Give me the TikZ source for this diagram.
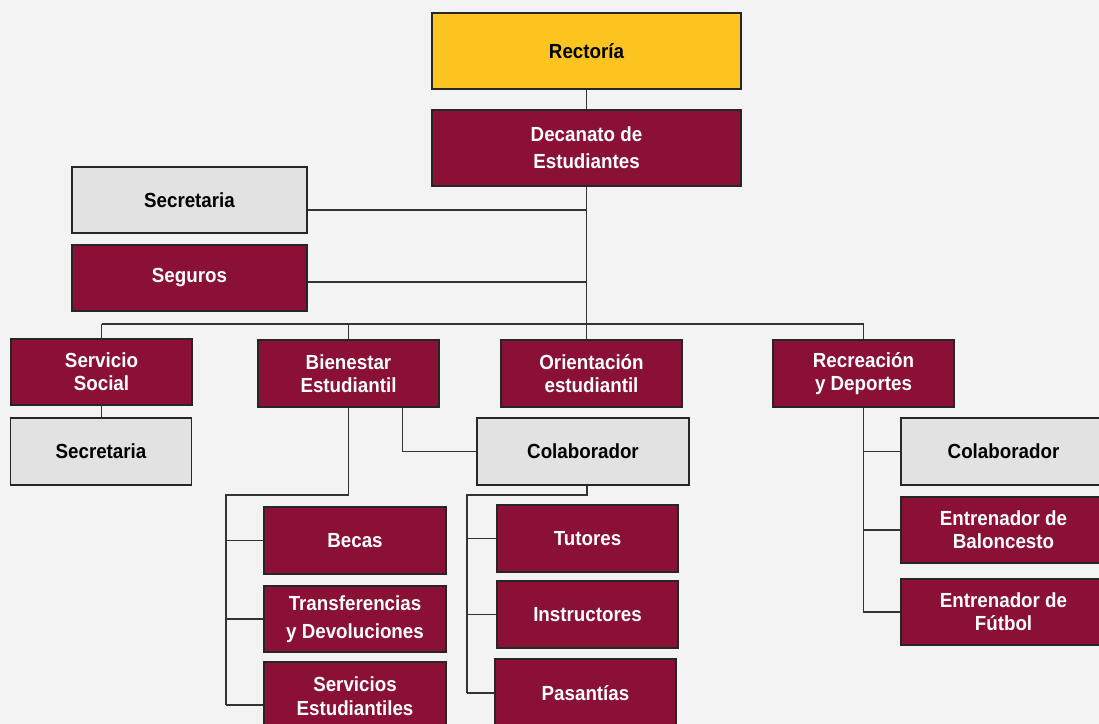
\documentclass[tikz,border=0pt]{standalone}
\usepackage{fontspec}
\setmainfont{Liberation Sans}[FakeStretch=0.92]
\usetikzlibrary{calc}
\definecolor{maroon}{HTML}{8A1036}
\definecolor{gold}{HTML}{FDC41F}
\definecolor{lgray}{HTML}{E2E2E2}
\definecolor{paper}{HTML}{F3F3F3}
\tikzset{
  box/.style={draw=black!85, line width=0.9pt, inner sep=0pt, align=center,
    font=\fontsize{15.3}{17.5}\selectfont\bfseries},
  mbox/.style={box, fill=maroon, text=white},
  gbox/.style={box, fill=lgray, text=black},
  ybox/.style={box, fill=gold, text=black},
  wh/.style 2 args={minimum width=#1*0.75pt, minimum height=#2*0.75pt},
  conn/.style={draw=black!80, line width=0.8pt}
}
\begin{document}
\begin{tikzpicture}[x=0.75pt,y=-0.75pt]
\fill[paper] (0,0) rectangle (1099,724);
\useasboundingbox (0,0) rectangle (1099,724);

\node[ybox, wh={309}{76}] (rect) at (586.5,51) {Rector\'ia};
\node[mbox, wh={309}{76}, font=\fontsize{15.3}{20.5}\selectfont\bfseries] (dec) at (586.5,148) {Decanato de\\Estudiantes};
\node[gbox, wh={235}{66}] (sec1) at (189.5,200) {Secretaria};
\node[mbox, wh={235}{66}] (seg) at (189.5,278) {Seguros};

\node[mbox, wh={181}{66}] (ss) at (101.5,372) {Servicio\\Social};
\node[mbox, wh={181}{67}] (bie) at (348.5,373.5) {Bienestar\\Estudiantil};
\node[mbox, wh={181}{67}] (ori) at (591.5,373.5) {Orientaci\'on\\estudiantil};
\node[mbox, wh={181}{67}] (rec) at (863.5,373.5) {Recreaci\'on\\y Deportes};

\node[gbox, wh={181}{67}] (sec2) at (101,451.5) {Secretaria};
\node[gbox, wh={212}{67}] (col1) at (583,451.5) {Colaborador};
\node[gbox, wh={205}{67}] (col2) at (1003.5,451.5) {Colaborador};
\node[mbox, wh={205}{66}] (ent1) at (1003.5,530) {Entrenador de\\Baloncesto};
\node[mbox, wh={205}{66}] (ent2) at (1003.5,612) {Entrenador de\\F\'utbol};

\node[mbox, wh={182}{67}] (becas) at (355,540.5) {Becas};
\node[mbox, wh={182}{66}, font=\fontsize{15.3}{21}\selectfont\bfseries] (trans) at (355,619) {Transferencias\\y Devoluciones};
\node[mbox, wh={182}{68}, text depth=0pt] (serv) at (355,696) {Servicios\\Estudiantiles};

\node[mbox, wh={181}{67}] (tut) at (587.5,538.5) {Tutores};
\node[mbox, wh={181}{67}] (ins) at (587.5,614.5) {Instructores};
\node[mbox, wh={181}{68}] (pas) at (585.5,693) {Pasant\'ias};

% connectors
\coordinate (busL) at (101.5,324);
\coordinate (busR) at (863.5,324);
\coordinate (s1) at ($(sec1.east)+(0,10)$);
\coordinate (s2) at ($(seg.east)+(0,4)$);
\draw[conn] (rect.south) -- (dec.north);
\draw[conn] (dec.south) -- (dec.south |- ori.north);
\draw[conn] (s1) -- (s1 -| dec.south);
\draw[conn] (s2) -- (s2 -| dec.south);
\draw[conn] (busL) -- (busR);
\draw[conn] (ss.north) -- (busL);
\draw[conn] (bie.north) -- (bie.north |- busL);
\draw[conn] (rec.north) -- (busR);
\draw[conn] (ss.south) -- (ss.south |- sec2.north);

\coordinate (bd) at ($(bie.south east)+(-37,0)$);
\draw[conn] (bd) |- (col1.west);
\coordinate (bj) at (226,495);
\coordinate (sv) at ($(serv.west)+(0,9)$);
\draw[conn] (bie.south) |- (bj) -- (bj |- sv);
\draw[conn] (bj |- becas.west) -- (becas.west);
\draw[conn] (bj |- trans.west) -- (trans.west);
\draw[conn] (bj |- sv) -- (sv);

\coordinate (cj) at (467,495);
\coordinate (cd) at ($(col1.south)+(4,0)$);
\draw[conn] (cd) |- (cj) -- (cj |- pas.west);
\draw[conn] (cj |- tut.west) -- (tut.west);
\draw[conn] (cj |- ins.west) -- (ins.west);
\draw[conn] (cj |- pas.west) -- (pas.west);

\draw[conn] (rec.south) |- (ent2.west);
\draw[conn] (col2.west) -- (col2.west -| rec.south);
\draw[conn] (ent1.west) -- (ent1.west -| rec.south);
\end{tikzpicture}
\end{document}
